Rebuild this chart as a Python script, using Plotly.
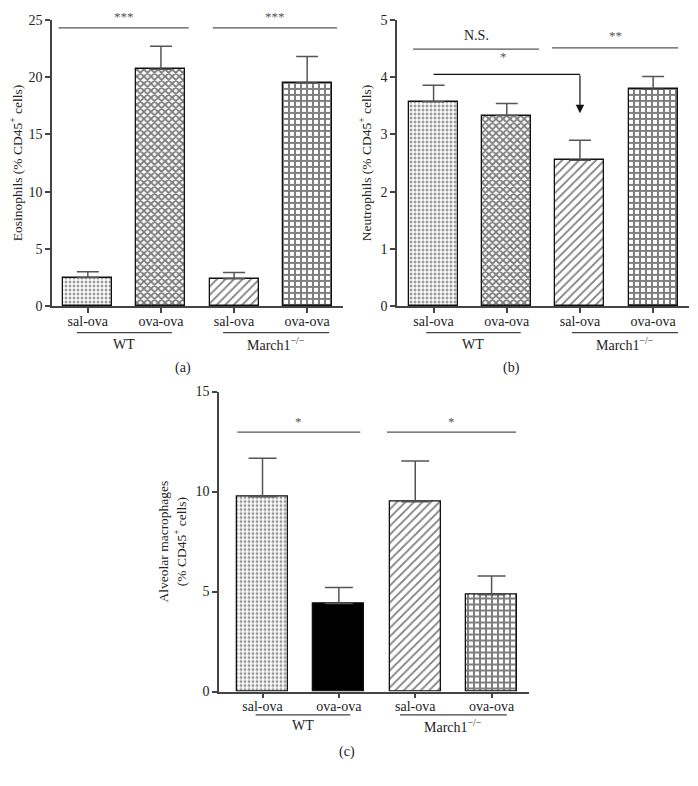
import plotly.graph_objects as go

# Page is 698x786; the browser body keeps its 8px margin, so the figure is 682x770.
PAGE_W, PAGE_H, OFF = 698, 786, 8
W, H = PAGE_W - 2 * OFF, PAGE_H - 2 * OFF

categories = ["sal-ova", "ova-ova", "sal-ova", "ova-ova"]
groups = ["WT", "March1<sup>−/−</sup>"]

eos_mean = [2.5, 20.7, 2.4, 19.5]
eos_sem = [0.5, 2.0, 0.55, 2.3]

neu_mean = [3.57, 3.33, 2.55, 3.79]
neu_sem = [0.29, 0.21, 0.35, 0.22]

mac_mean = [9.74, 4.40, 9.49, 4.84]
mac_sem = [1.93, 0.80, 2.04, 0.94]

FONT = "Liberation Serif"
AX = "#444444"

def px(x):
    return (x - OFF) / W

def py(y):
    return 1 - (y - OFF) / H

def patterns(c_black):
    return [
        dict(shape=".", size=4, solidity=0.45, fgcolor="#333333", bgcolor="white"),
        (dict(shape="", fgcolor="black", bgcolor="black") if c_black else
         dict(shape="x", size=5, solidity=0.62, fgcolor="black", bgcolor="white")),
        dict(shape="/", size=6, solidity=0.3, fgcolor="black", bgcolor="white"),
        dict(shape="+", size=6, solidity=0.56, fgcolor="black", bgcolor="white"),
    ]

fig = go.Figure()

panels = [
    dict(mean=eos_mean, sem=eos_sem, xa="x", ya="y", black=False, cap=11),
    dict(mean=neu_mean, sem=neu_sem, xa="x2", ya="y2", black=False, cap=11),
    dict(mean=mac_mean, sem=mac_sem, xa="x3", ya="y3", black=True, cap=14),
]

for p in panels:
    pats = patterns(p["black"])
    for i in range(4):
        fig.add_trace(go.Bar(
            x=[i], y=[p["mean"][i]], width=0.67,
            xaxis=p["xa"], yaxis=p["ya"],
            marker=dict(color="black" if (p["black"] and i == 1) else "white",
                        pattern=pats[i], line=dict(color="#111111", width=1.3)),
            error_y=dict(type="data", array=[p["sem"][i]], arrayminus=[0],
                         symmetric=False, color="#555555", thickness=1.5,
                         width=p["cap"]),
            showlegend=False, hoverinfo="skip",
        ))

TF = dict(family=FONT, size=14, color="#222222")
common_x = dict(tickmode="array", tickvals=[0, 1, 2, 3], ticktext=categories,
                showline=True, linecolor=AX, linewidth=1.5, ticks="outside",
                ticklen=5, tickcolor=AX, tickwidth=1.5, showgrid=False,
                zeroline=False, tickfont=TF, ticklabelstandoff=-4)
common_y = dict(showline=True, linecolor=AX, linewidth=1.5, ticks="outside",
                ticklen=5, tickcolor=AX, tickwidth=1.5, showgrid=False,
                zeroline=False, tickfont=TF)
TT = dict(family=FONT, size=13.5, color="#222222")

fig.update_layout(
    width=W, height=H, margin=dict(l=0, r=0, t=0, b=0),
    paper_bgcolor="white", plot_bgcolor="white", bargap=0,
    font=dict(family=FONT, color="#222222", size=13),
    xaxis=dict(common_x, domain=[px(52), px(343)], range=[-0.49, 3.49], anchor="y"),
    yaxis=dict(common_y, domain=[py(305), py(13)], range=[0, 25], tickvals=[0, 5, 10, 15, 20, 25],
               anchor="x", title=dict(text="Eosinophils (% CD45<sup>+</sup> cells)",
                                      font=TT, standoff=6)),
    xaxis2=dict(common_x, domain=[px(397), px(689)], range=[-0.5, 3.49], anchor="y2"),
    yaxis2=dict(common_y, domain=[py(305), py(13)], range=[0, 5], tickvals=[0, 1, 2, 3, 4, 5],
                anchor="x2", title=dict(text="Neutrophils (% CD45<sup>+</sup> cells)",
                                        font=TT, standoff=6)),
    xaxis3=dict(common_x, domain=[px(219), px(529)], range=[-0.57, 3.49], anchor="y3"),
    yaxis3=dict(common_y, domain=[py(698), py(392)], range=[0, 15], tickvals=[0, 5, 10, 15],
                anchor="x3", title=dict(text="Alveolar macrophages<br>(% CD45<sup>+</sup> cells)",
                                        font=TT, standoff=6)),
)

shapes = []
ann = []

def hline(xr, yr, x0, x1, y, color="#555555", w=1.3):
    shapes.append(dict(type="line", xref=xr, yref=yr, x0=x0, x1=x1, y0=y, y1=y,
                       line=dict(color=color, width=w)))

def text(xr, yr, x, y, t, size=14, yanchor="middle", color="#222222"):
    ann.append(dict(xref=xr, yref=yr, x=x, y=y, text=t, showarrow=False,
                    font=dict(family=FONT, size=size, color=color), yanchor=yanchor))

STAR = "#555555"
# significance (a)
hline("x", "y", -0.40, 1.38, 24.3)
hline("x", "y", 1.71, 3.41, 24.3)
text("x", "y", 0.49, 24.45, "***", 13, "bottom", STAR)
text("x", "y", 2.56, 24.45, "***", 13, "bottom", STAR)

# significance (b)
hline("x2", "y2", -0.28, 1.44, 4.49)
hline("x2", "y2", 1.62, 3.34, 4.51)
text("x2", "y2", 0.58, 4.56, "N.S.", 14, "bottom")
text("x2", "y2", 2.48, 4.57, "**", 13, "bottom", STAR)
hline("x2", "y2", 0, 2, 4.05, color="#111111", w=1.2)
text("x2", "y2", 0.96, 4.2, "*", 13, "bottom", STAR)
ann.append(dict(xref="x2", yref="y2", axref="x2", ayref="y2", x=2, y=3.37,
                ax=2, ay=4.06, text="", showarrow=True, arrowhead=2, arrowsize=1.4,
                arrowwidth=1.2, arrowcolor="#111111"))

# significance (c)
hline("x3", "y3", -0.33, 1.28, 12.97)
hline("x3", "y3", 1.63, 3.32, 12.97)
text("x3", "y3", 0.47, 13.05, "*", 13, "bottom", STAR)
text("x3", "y3", 2.47, 13.05, "*", 13, "bottom", STAR)

# group underlines and labels
for xr, wt, mr, ly, lt, pl, plx, ply in [
    ("x", (-0.15, 1.15), (1.85, 3.30), 332, 344, "(a)", 173, 368),
    ("x2", (-0.10, 1.19), (1.89, 3.34), 332, 344, "(b)", 522, 368),
    ("x3", (-0.09, 1.15), (1.80, 3.20), 721.7, 733, "(c)", 347, 760),
]:
    hline(xr, "paper", wt[0], wt[1], py(ly), color="#444444", w=1.2)
    hline(xr, "paper", mr[0], mr[1], py(ly), color="#444444", w=1.2)
    text(xr, "paper", (wt[0] + wt[1]) / 2, py(lt), groups[0], 14)
    text(xr, "paper", (mr[0] + mr[1]) / 2, py(lt), groups[1], 14)
    text("paper", "paper", px(plx), py(ply), pl, 14)

fig.update_layout(shapes=shapes, annotations=ann)

fig.write_html("out.html", config={"displayModeBar": False})
